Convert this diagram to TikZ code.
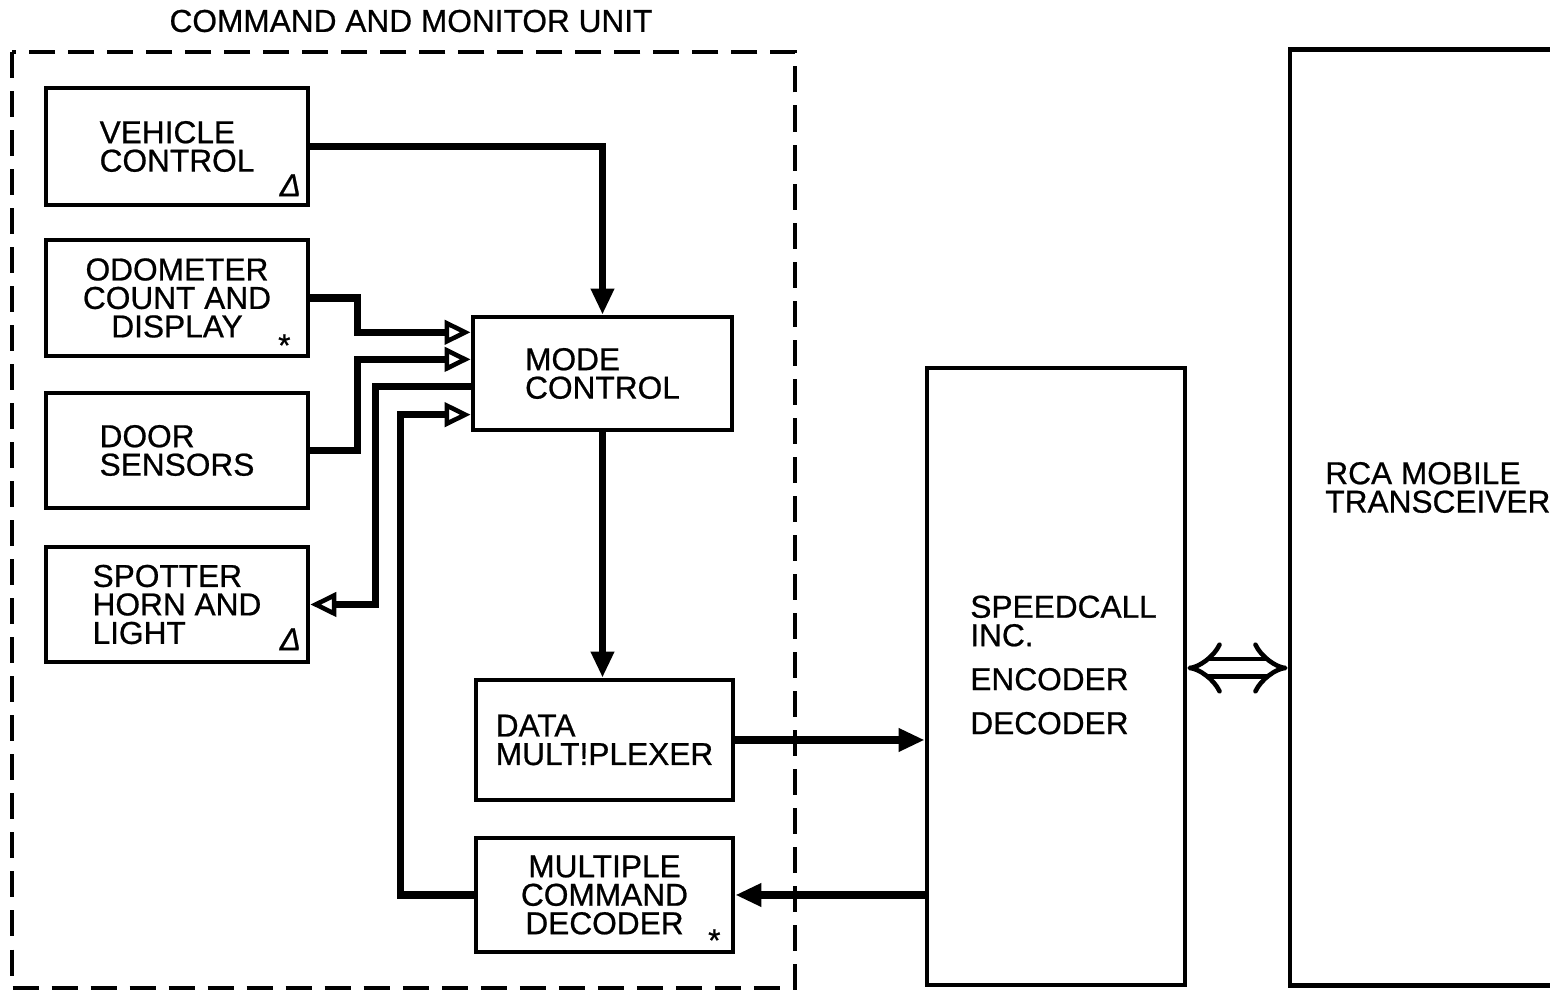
\documentclass[tikz,border=0pt]{standalone}
\usepackage{fontspec}
\setmainfont{Liberation Sans}[FakeBold=0.7]
\usetikzlibrary{arrows.meta,calc}
\tikzstyle{block} = [draw, rectangle, line width=1.3pt, inner sep=0pt, align=left]
\tikzstyle{tag} = [inner sep=0pt, font=\fontsize{9}{9}\selectfont]
\tikzstyle{line} = [line width=2pt, -{Triangle[length=0.26cm, width=0.22cm]}]
\tikzstyle{feed} = [line width=2pt, -{Triangle[open, length=0.26cm, width=0.24cm, line width=1.3pt]}]
\tikzstyle{unit} = [line width=1.1pt, dash pattern=on 0.26cm off 0.13cm]

\begin{document}
\begin{tikzpicture}[x=0.01cm, y=-0.01cm, font=\fontsize{9}{8.1}\selectfont]
    \useasboundingbox (0,0) rectangle (1550,992);
    % Command and monitor unit
    \node (title) at (411,21) {COMMAND AND MONITOR UNIT};
    \draw [unit] (12,52) rectangle (795,988);
    \node [block, minimum width=2.62cm, minimum height=1.17cm] (vc) at (177,146.5) {VEHICLE\\CONTROL};
    \node [block, align=center, minimum width=2.62cm, minimum height=1.16cm] (odo) at (177,298) {ODOMETER\\COUNT AND\\DISPLAY};
    \node [block, minimum width=2.62cm, minimum height=1.15cm] (ds) at (177,450.5) {DOOR\\SENSORS};
    \node [block, minimum width=2.62cm, minimum height=1.15cm] (sp) at (177,604.5) {SPOTTER\\HORN AND\\LIGHT};
    \node [block, minimum width=2.59cm, minimum height=1.13cm] (mc) at (602.5,373.5) {MODE\\CONTROL};
    \node [block, minimum width=2.57cm, minimum height=1.20cm] (dm) at (604.5,740) {DATA\\MULT!PLEXER};
    \node [block, align=center, minimum width=2.57cm, minimum height=1.14cm] (mcd) at (604.5,895) {MULTIPLE\\COMMAND\\DECODER};
    \node [tag] (vcmark) at ($(vc.south east)+(-20,-22)$) {\textit{Δ}};
    \node [tag] (odomark) at ($(odo.south east)+(-26,-13)$) {*};
    \node [tag] (spmark) at ($(sp.south east)+(-20,-25)$) {\textit{Δ}};
    \node [tag] (mcdmark) at ($(mcd.south east)+(-21,-14)$) {*};

    % Radio link
    \node [block, minimum width=2.58cm, minimum height=6.17cm] (sc) at (1056,676.5) {};
    \node [align=left, anchor=west, inner sep=0pt] (sctext) at ($(sc.west)+(45,-11.5)$) {SPEEDCALL\\INC.\\[4.4pt]ENCODER\\[4.4pt]DECODER};
    \node [block, minimum width=2.80cm, minimum height=9.35cm] (rca) at (1430,517.5) {};
    \node [align=left, anchor=west, inner sep=0pt] (rcatext) at ($(rca.west)+(37,-30)$) {RCA MOBILE\\TRANSCEIVER};

    % Ports on mode control
    \coordinate (p1) at ($(mc.north west)!.15!(mc.south west)$);
    \coordinate (p2) at ($(mc.north west)!.38!(mc.south west)$);
    \coordinate (p3) at ($(mc.north west)!.61!(mc.south west)$);
    \coordinate (p4) at ($(mc.north west)!.85!(mc.south west)$);

    % Connections
    \draw [line] (vc.east) -| (mc.north);
    \draw [feed] (odo.east) -- ++(47,0) |- (p1);
    \draw [feed] (ds.east) -- ++(47,0) |- (p2);
    \draw [feed] (p3) -- ++(-95,0) |- (sp.east);
    \draw [feed] (mcd.west) -- ++(-73,0) |- (p4);
    \draw [line] (mc.south) -- (mc.south |- dm.north);
    \draw [line] (dm.east) -- (dm.east -| sc.west);
    \draw [line] (sc.west |- mcd.east) -- (mcd.east);
    \draw [line width=1.3pt, double distance=0.13cm, {Implies}-{Implies}] ([yshift=0.085cm]sc.east) -- ([yshift=0.085cm]sc.east -| rca.west);
\end{tikzpicture}
\end{document}
